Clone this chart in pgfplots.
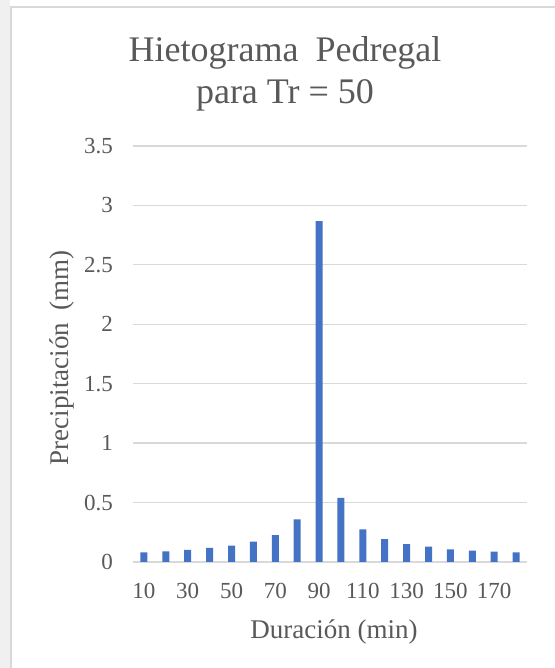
\documentclass[border=0pt]{standalone}
\usepackage{fontspec}
\setmainfont{Liberation Serif}
\usepackage{pgfplots}
\pgfplotsset{compat=1.18}
\definecolor{txt}{HTML}{595959}
\definecolor{gridc}{HTML}{D9D9D9}
\definecolor{barc}{HTML}{4472C4}
\definecolor{side}{HTML}{F0F0F0}
\begin{document}
\begin{tikzpicture}[x=1bp,y=1bp]
\useasboundingbox (0,0) rectangle (555,668);
\fill[white] (0,0) rectangle (555,668);
\fill[side] (0,0) rectangle (10,668);
\draw[gridc,line width=2bp] (11,0) -- (11,661) -- (555,661);
\node[anchor=base,text=txt,font=\fontsize{36bp}{42bp}\selectfont] at (285,606) {Hietograma\hspace{17bp}Pedregal};
\node[anchor=base,text=txt,font=\fontsize{36bp}{42bp}\selectfont] at (285,564) {para Tr = 50};
\begin{axis}[
  at={(133bp,106bp)}, anchor=south west,
  width=394bp, height=416bp, scale only axis,
  xmin=5, xmax=185, ymin=0, ymax=3.5,
  xtick={10,30,...,170},
  ytick={0,0.5,...,3.5},
  yticklabels={0,0.5,1,1.5,2,2.5,3,3.5},
  axis line style={draw=none},
  major tick length=0pt,
  ymajorgrids, grid style={gridc,line width=1.3bp},
  /pgf/number format/assume math mode=true,
  tick label style={text=txt,font=\fontsize{23bp}{27bp}\selectfont,inner sep=0pt},
  xticklabel style={anchor=north,yshift=-21bp},
  yticklabel style={anchor=east,xshift=-20bp},
  xlabel={Duración (min)},
  ylabel={Precipitación\hspace{12bp}(mm)},
  label style={text=txt,font=\fontsize{27bp}{32bp}\selectfont},
  xlabel style={at={(axis description cs:0.510,-0.183)},anchor=base},
  ylabel style={at={(axis description cs:-0.180,0.49)},anchor=center},
  ybar, bar width=7bp,
  clip=false,
]
\addplot[fill=barc,draw=none] coordinates {
(10,0.082) (20,0.090) (30,0.102) (40,0.119) (50,0.138) (60,0.172)
(70,0.226) (80,0.359) (90,2.867) (100,0.540) (110,0.274) (120,0.192)
(130,0.150) (140,0.130) (150,0.107) (160,0.096) (170,0.088) (180,0.082)
};
\end{axis}
\end{tikzpicture}
\end{document}
